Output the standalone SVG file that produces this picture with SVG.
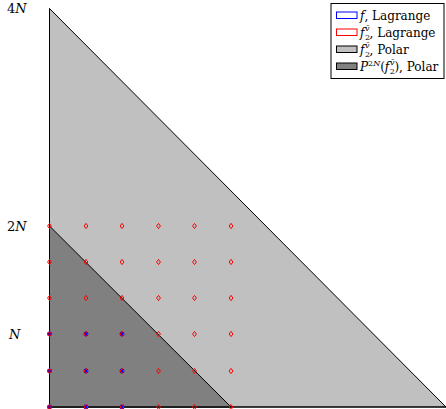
<svg xmlns="http://www.w3.org/2000/svg" width="446" height="409" viewBox="0 0 446 409">
  <style>
    .lbl { font-family: "DejaVu Serif", "Liberation Serif", serif; font-size: 12px; fill: #000; }
    .ax { font-size: 13px; }
    .it { font-style: italic; }
    .sm { font-size: 8px; }
    .edge { stroke: #000; stroke-width: 1; fill: none; }
    .red { fill: none; stroke: #ff0000; stroke-width: 1; }
    .blue { fill: #0000ff; stroke: none; }
  </style>
  <defs>
    <path id="dia" d="M0,-2.6 L1.9,0 L0,2.6 L-1.9,0 Z" class="red"/>
    <circle id="dot" r="2.4" class="blue"/>
  </defs>

  <!-- polar regions -->
  <g id="polar-f2">
    <polygon points="49.5,8.5 49.5,407 446,407" fill="#c0c0c0" stroke="#000" stroke-width="1"/>
  </g>
  <g id="polar-P2N">
    <polygon points="49.5,226 49.5,407 231,407" fill="#808080" stroke="#000" stroke-width="1"/>
  </g>

  <!-- frame edges -->
  <g id="connectors">
    <line x1="49.5" y1="8.5" x2="49.5" y2="407" class="edge"/>
    <line x1="49.5" y1="407" x2="446" y2="407" class="edge" stroke-width="1.5"/>
  </g>

  <!-- Lagrange nodes of f -->
  <g id="nodes-f">
    <use href="#dot" x="49.5" y="334"/><use href="#dot" x="86" y="334"/><use href="#dot" x="122" y="334"/>
    <use href="#dot" x="49.5" y="371"/><use href="#dot" x="86" y="371"/><use href="#dot" x="122" y="371"/>
    <use href="#dot" x="49.5" y="407"/><use href="#dot" x="86" y="407"/><use href="#dot" x="122" y="407"/>
  </g>

  <!-- Lagrange nodes of f2 -->
  <g id="nodes-f2">
    <use href="#dia" x="49.5" y="226"/><use href="#dia" x="86" y="226"/><use href="#dia" x="122" y="226"/><use href="#dia" x="158.5" y="226"/><use href="#dia" x="194.5" y="226"/><use href="#dia" x="231" y="226"/>
    <use href="#dia" x="49.5" y="262"/><use href="#dia" x="86" y="262"/><use href="#dia" x="122" y="262"/><use href="#dia" x="158.5" y="262"/><use href="#dia" x="194.5" y="262"/><use href="#dia" x="231" y="262"/>
    <use href="#dia" x="49.5" y="298"/><use href="#dia" x="86" y="298"/><use href="#dia" x="122" y="298"/><use href="#dia" x="158.5" y="298"/><use href="#dia" x="194.5" y="298"/><use href="#dia" x="231" y="298"/>
    <use href="#dia" x="49.5" y="334"/><use href="#dia" x="86" y="334"/><use href="#dia" x="122" y="334"/><use href="#dia" x="158.5" y="334"/><use href="#dia" x="194.5" y="334"/><use href="#dia" x="231" y="334"/>
    <use href="#dia" x="49.5" y="371"/><use href="#dia" x="86" y="371"/><use href="#dia" x="122" y="371"/><use href="#dia" x="158.5" y="371"/><use href="#dia" x="194.5" y="371"/><use href="#dia" x="231" y="371"/>
    <use href="#dia" x="49.5" y="407"/><use href="#dia" x="86" y="407"/><use href="#dia" x="122" y="407"/><use href="#dia" x="158.5" y="407"/><use href="#dia" x="194.5" y="407"/><use href="#dia" x="231" y="407"/>
  </g>

  <!-- axis labels -->
  <g id="axis-labels">
    <text class="lbl ax" x="7" y="13">4<tspan class="it">N</tspan></text>
    <text class="lbl ax" x="7" y="231">2<tspan class="it">N</tspan></text>
    <text class="lbl ax" x="9" y="339"><tspan class="it">N</tspan></text>
  </g>

  <!-- legend -->
  <g id="legend">
    <rect x="331" y="3.5" width="113" height="75" fill="#fff" stroke="#000" stroke-width="1"/>
    <rect x="336.5" y="12" width="20.5" height="6.5" fill="none" stroke="#0000ff" stroke-width="1"/>
    <rect x="336.5" y="29" width="20.5" height="6.5" fill="none" stroke="#ff0000" stroke-width="1"/>
    <rect x="336.5" y="46" width="20.5" height="6.5" fill="#c0c0c0" stroke="#000" stroke-width="1"/>
    <rect x="336.5" y="63" width="20.5" height="6.5" fill="#808080" stroke="#000" stroke-width="1"/>
    <text class="lbl" x="360" y="20"><tspan class="it">f</tspan>, Lagrange</text>
    <text class="lbl" x="360" y="37"><tspan class="it">f</tspan><tspan class="sm" dx="0.5" dy="3">2</tspan><tspan class="sm it" dx="-5" dy="-9">v̄</tspan><tspan dy="6">, Lagrange</tspan></text>
    <text class="lbl" x="360" y="54"><tspan class="it">f</tspan><tspan class="sm" dx="0.5" dy="3">2</tspan><tspan class="sm it" dx="-5" dy="-9">v̄</tspan><tspan dy="6">, Polar</tspan></text>
    <text class="lbl" x="360" y="71"><tspan class="it">P</tspan><tspan class="sm" dy="-5">2<tspan class="it">N</tspan></tspan><tspan dy="5">(</tspan><tspan class="it">f</tspan><tspan class="sm" dx="0.5" dy="3">2</tspan><tspan class="sm it" dx="-5" dy="-9">v̄</tspan><tspan dy="6">), Polar</tspan></text>
  </g>
</svg>
